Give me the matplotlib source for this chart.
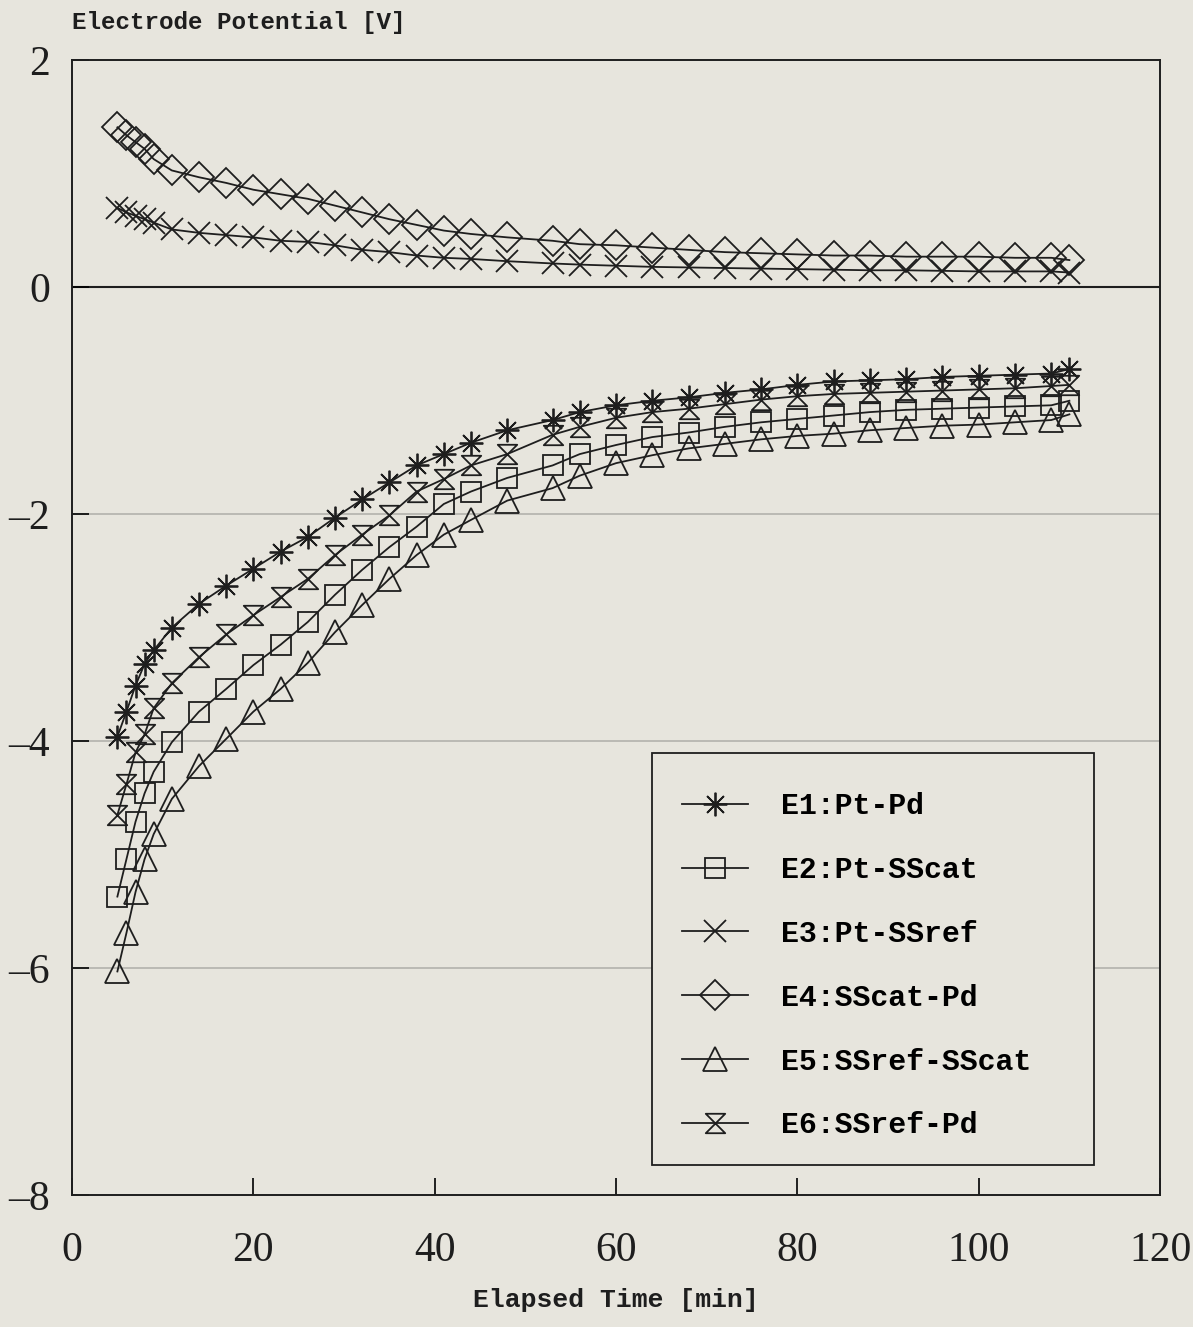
import numpy as np
import matplotlib.pyplot as plt
from matplotlib.path import Path
from matplotlib.patches import Rectangle

# data
t_min = [5, 6, 7, 8, 9, 11, 14, 17, 20, 23, 26, 29, 32, 35, 38, 41, 44, 48,
         53, 56, 60, 64, 68, 72, 76, 80, 84, 88, 92, 96, 100, 104, 108, 110]

e1 = [-3.96, -3.74, -3.51, -3.32, -3.20, -3.00, -2.79, -2.63, -2.48, -2.33,
      -2.20, -2.03, -1.87, -1.72, -1.57, -1.47, -1.37, -1.26, -1.17, -1.10,
      -1.04, -1.00, -0.97, -0.93, -0.90, -0.86, -0.83, -0.82, -0.81, -0.79,
      -0.78, -0.77, -0.76, -0.72]
e2 = [-5.37, -5.04, -4.71, -4.46, -4.27, -4.01, -3.74, -3.54, -3.33, -3.15,
      -2.95, -2.71, -2.49, -2.29, -2.11, -1.91, -1.80, -1.68, -1.57, -1.47,
      -1.39, -1.32, -1.28, -1.23, -1.19, -1.16, -1.13, -1.10, -1.08, -1.07,
      -1.06, -1.05, -1.04, -1.00]
e3 = [0.70, 0.66, 0.63, 0.60, 0.57, 0.51, 0.48, 0.46, 0.44, 0.41,
      0.40, 0.37, 0.33, 0.31, 0.28, 0.26, 0.25, 0.23, 0.21, 0.20,
      0.19, 0.18, 0.175, 0.17, 0.165, 0.16, 0.155, 0.15, 0.15, 0.145,
      0.14, 0.14, 0.14, 0.13]
e4 = [1.41, 1.34, 1.28, 1.22, 1.13, 1.03, 0.97, 0.92, 0.86, 0.82,
      0.78, 0.72, 0.66, 0.60, 0.55, 0.50, 0.47, 0.44, 0.41, 0.38,
      0.37, 0.35, 0.33, 0.31, 0.30, 0.29, 0.28, 0.28, 0.27, 0.27,
      0.27, 0.26, 0.26, 0.24]
e5 = [-6.03, -5.69, -5.33, -5.04, -4.82, -4.51, -4.22, -3.98, -3.74, -3.54,
      -3.31, -3.04, -2.80, -2.57, -2.36, -2.18, -2.05, -1.88, -1.77, -1.66,
      -1.55, -1.48, -1.42, -1.38, -1.34, -1.31, -1.29, -1.26, -1.24, -1.22,
      -1.21, -1.19, -1.17, -1.12]
e6 = [-4.65, -4.38, -4.10, -3.94, -3.71, -3.49, -3.26, -3.06, -2.89, -2.73,
      -2.57, -2.36, -2.18, -2.01, -1.80, -1.69, -1.57, -1.47, -1.30, -1.23,
      -1.15, -1.10, -1.07, -1.03, -0.99, -0.96, -0.94, -0.93, -0.92, -0.91,
      -0.90, -0.89, -0.87, -0.86]

labels = ['E1:Pt-Pd', 'E2:Pt-SScat', 'E3:Pt-SSref',
          'E4:SScat-Pd', 'E5:SSref-SScat', 'E6:SSref-Pd']
series = [e1, e2, e3, e4, e5, e6]

# hourglass marker for E6
hourglass = Path([(-1, 1), (1, 1), (-1, -1), (1, -1), (-1, 1)],
                 [Path.MOVETO, Path.LINETO, Path.LINETO, Path.LINETO, Path.CLOSEPOLY])
markers = [(8, 2, 0), 's', 'x', 'D', '^', hourglass]
msizes = [17, 14, 16, 15, 17, 14]

bg = '#e7e5dd'
ink = '#1e1e1e'
mono = 'Liberation Mono'
serif = 'Liberation Serif'

fig = plt.figure(figsize=(11.93, 13.27), dpi=100, facecolor=bg)
ax = fig.add_axes([0.0604, 0.0995, 0.912, 0.855], facecolor=bg)

# faint grid lines and solid zero line
for yv in [-2, -4, -6]:
    ax.axhline(yv, color='#b3b2ac', lw=1.2, zorder=1)
ax.axhline(0, color=ink, lw=1.5, zorder=1)

for ys, lab, m, ms in zip(series, labels, markers, msizes):
    ax.plot(t_min, ys, color=ink, lw=1.3, marker=m, markersize=ms,
            markerfacecolor='none', markeredgecolor=ink,
            markeredgewidth=1.3, label=lab, zorder=3)

ax.set_xlim(0, 120)
ax.set_ylim(-8, 2)
ax.set_xticks([0, 20, 40, 60, 80, 100, 120])
ax.set_yticks([-8, -6, -4, -2, 0, 2])
ax.set_yticklabels(['\u20138', '\u20136', '\u20134', '\u20132', '0', '2'])
ax.tick_params(direction='in', length=12, width=1.2, top=False, right=False)
ax.tick_params(axis='x', pad=26)
ax.tick_params(axis='y', pad=16)
for lbl in ax.get_xticklabels() + ax.get_yticklabels():
    lbl.set_fontfamily(serif)
    lbl.set_fontsize(30)
    lbl.set_color(ink)
for sp in ax.spines.values():
    sp.set_color(ink)
    sp.set_linewidth(1.4)

fig.text(0.0604, 0.983, 'Electrode Potential [V]', family=mono, fontsize=17.5,
         fontweight='bold', ha='left', va='center', color=ink)
fig.text(0.516, 0.020, 'Elapsed Time [min]', family=mono, fontsize=19,
         fontweight='bold', ha='center', va='center', color=ink)

# legend box drawn as its own frame, legend entries placed inside
ax.add_patch(Rectangle((0.533, 0.0264), 0.406, 0.3630, transform=ax.transAxes,
                       facecolor=bg, edgecolor=ink, lw=1.3, zorder=4))
leg = ax.legend(loc='upper left', bbox_to_anchor=(0.561, 0.355),
                prop={'family': mono, 'size': 21.5, 'weight': 'bold'},
                frameon=False, handlelength=2.2, handletextpad=1.1,
                labelspacing=1.2, borderpad=0, borderaxespad=0)
leg.set_zorder(5)

fig.savefig('out.png', dpi=100, facecolor=bg)
